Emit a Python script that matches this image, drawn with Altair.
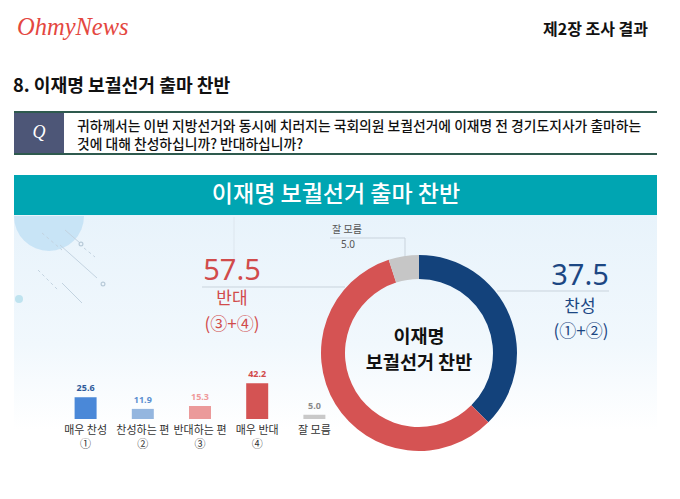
import math
import altair as alt
import pandas as pd

KR = "Noto Sans CJK KR"

# ---- data ----
bar_labels = ["매우 찬성|①", "찬성하는 편|②", "반대하는 편|③", "매우 반대|④", "잘 모름"]
bar_values = [25.6, 11.9, 15.3, 42.2, 5.0]
donut_cats = ["찬성", "반대", "잘 모름"]
donut_values = [37.5, 57.5, 5.0]
donut_order = [1, 2, 3]

bar_colors = ["#4a88d8", "#94b6df", "#eb9a9a", "#d45353", "#c9c9c9"]
bar_text_colors = ["#2f5a9a", "#5b8fd0", "#ef9a9a", "#d24a4a", "#8a8a8a"]
donut_colors = ["#13427b", "#d55353", "#c6c6c6"]

bar_df = pd.DataFrame({"label": bar_labels, "value": bar_values})
donut_df = pd.DataFrame({"cat": donut_cats, "value": donut_values, "ord": donut_order})
one = pd.DataFrame({"a": [0]})

RED = "#d14b4b"
NAVY = "#1c4783"


def txt(s, x, y, size, color, weight="normal", align="center", font=KR, style="normal"):
    return alt.Chart(one).mark_text(
        text=s, fontSize=size, color=color, fontWeight=weight, align=align,
        baseline="middle", font=font, fontStyle=style
    ).encode(x=alt.value(x), y=alt.value(y))


def rule(x1, y1, x2, y2, color, w=1, dash=None):
    kw = dict(color=color, strokeWidth=w)
    if dash:
        kw["strokeDash"] = dash
    return alt.Chart(one).mark_rule(**kw).encode(
        x=alt.value(x1), x2=alt.value(x2), y=alt.value(y1), y2=alt.value(y2))


def rect(x1, y1, x2, y2, fill):
    return alt.Chart(one).mark_rect(fill=fill, opacity=1).encode(
        x=alt.value(x1), x2=alt.value(x2), y=alt.value(y1), y2=alt.value(y2))


def ring(x, y, r, color, filled=False):
    if filled:
        return alt.Chart(one).mark_arc(radius=r, theta=0, theta2=2 * math.pi, color=color) \
            .encode(x=alt.value(x), y=alt.value(y))
    return alt.Chart(one).mark_arc(radius=r, innerRadius=r - 1.2, theta=0, theta2=2 * math.pi,
                                   color=color).encode(x=alt.value(x), y=alt.value(y))


layers = []

# header
layers.append(txt("OhmyNews", 17, 28, 24.5, "#e4473f", font="Liberation Serif", style="italic", align="left"))
layers.append(txt("제2장 조사 결과", 648, 30, 16, "#111", weight="bold", align="right"))
layers.append(txt("8. 이재명 보궐선거 출마 찬반", 13, 87, 18.2, "#111", weight="bold", align="left"))

# question box
layers.append(rect(14, 113, 64, 153, "#4d5677"))
layers.append(rule(14, 112, 657, 112, "#2e5a4e", 2))
layers.append(rule(14, 154, 657, 154, "#2e5a4e", 2))
layers.append(txt("Q", 39, 133, 18, "white", font="Liberation Serif", style="italic"))
layers.append(txt("귀하께서는 이번 지방선거와 동시에 치러지는 국회의원 보궐선거에 이재명 전 경기도지사가 출마하는",
                  77, 127, 13.8, "#111", weight=500, align="left"))
layers.append(txt("것에 대해 찬성하십니까? 반대하십니까?", 77, 145, 13.8, "#111", weight=500, align="left"))

# banner
layers.append(rect(14, 175, 657, 215, "#00a5b2"))
layers.append(txt("이재명 보궐선거 출마 찬반", 336, 195, 23, "white", weight=500))

# gradient background
bg = alt.Chart(one).mark_rect(
    fill=alt.Gradient(gradient="linear", x1=0, y1=0, x2=0, y2=1,
                      stops=[alt.GradientStop(color="#e8f3fb", offset=0),
                             alt.GradientStop(color="#f1f8fd", offset=0.6),
                             alt.GradientStop(color="#ffffff", offset=1)])
).encode(x=alt.value(14), x2=alt.value(657), y=alt.value(215), y2=alt.value(430))
layers.append(bg)

# decorative shapes (top-left)
layers.append(alt.Chart(one).mark_arc(radius=35, theta=math.pi / 2, theta2=3 * math.pi / 2,
                                      color="#c6e3f5", opacity=0.95)
              .encode(x=alt.value(49), y=alt.value(216)))
layers.append(ring(19, 299, 4, "#bfe3ef", filled=True))
layers.append(rule(65, 230, 80, 243, "#c3d3e0", 1))
layers.append(rule(60, 245, 97, 278, "#c3d3e0", 1))
layers.append(rule(62, 283, 82, 303, "#c3d3e0", 1))
layers.append(rule(42, 233, 62, 250, "#c3d3e0", 1, [3, 3]))
layers.append(rule(84, 248, 95, 257, "#c3d3e0", 1, [3, 3]))
layers.append(rule(38, 270, 58, 290, "#c3d3e0", 1, [3, 3]))
layers.append(ring(81, 244, 2.5, "#b9cbd9"))
layers.append(ring(103, 284, 2.5, "#b9cbd9"))

# leader lines
layers.append(rule(234, 217, 234, 262, "#dde6ee", 1))
layers.append(rule(202, 287, 345, 287, "#c9d3dc", 1))
layers.append(rule(497, 291, 609, 291, "#c9d3dc", 1))
layers.append(rule(330, 238, 405, 238, "#c9d3dc", 1))
layers.append(rule(405, 238, 405, 257, "#c9d3dc", 1))

# bars
xscale = alt.Scale(domain=bar_labels, range=[57, 343], paddingInner=0, paddingOuter=0)
yscale = alt.Scale(domain=[0, 100], range=[419, 334])

bars = alt.Chart(bar_df).mark_bar(size=22).encode(
    x=alt.X("label:N", scale=xscale, sort=None,
            axis=alt.Axis(orient="bottom", offset=-80, domainColor="#bbbbbb", tickColor="#bbbbbb",
                          tickSize=3, tickBand="extent", labels=False, title=None, grid=False)),
    y=alt.Y("value:Q", scale=yscale, axis=None),
    color=alt.Color("label:N", scale=alt.Scale(domain=bar_labels, range=bar_colors), legend=None),
)
layers.append(bars)

bar_text = alt.Chart(bar_df).mark_text(dy=-4, baseline="bottom", fontWeight="bold", fontSize=9,
                                       font="Noto Sans").encode(
    x=alt.X("label:N", scale=xscale, sort=None),
    y=alt.Y("value:Q", scale=yscale),
    text=alt.Text("value:Q", format=".1f"),
    color=alt.Color("label:N", scale=alt.Scale(domain=bar_labels, range=bar_text_colors), legend=None),
)
layers.append(bar_text)

cat_text = alt.Chart(bar_df).mark_text(lineBreak="|", baseline="middle", fontSize=11, lineHeight=14,
                                       font=KR, color="#333333").encode(
    x=alt.X("label:N", scale=xscale, sort=None),
    y=alt.value(431),
    text="label:N",
)
layers.append(cat_text)

# donut
donut = alt.Chart(donut_df).mark_arc(innerRadius=74, outerRadius=98).encode(
    theta=alt.Theta("value:Q"),
    color=alt.Color("cat:N", scale=alt.Scale(domain=donut_cats, range=donut_colors), legend=None),
    order=alt.Order("ord:Q"),
    x=alt.value(419), y=alt.value(353),
)
layers.append(donut)

layers.append(txt("이재명", 419, 337, 18.5, "#111", weight="bold"))
layers.append(txt("보궐선거 찬반", 419, 363, 18.5, "#111", weight="bold"))


def num(cat, x, y, size, color):
    return alt.Chart(donut_df).transform_filter(alt.datum.cat == cat).mark_text(
        fontSize=size, color=color, font="Noto Sans", baseline="middle", align="center"
    ).encode(text=alt.Text("value:Q", format=".1f"), x=alt.value(x), y=alt.value(y))


layers.append(num("반대", 232, 271, 29, RED))
layers.append(txt("반대", 232, 299, 17, RED))
layers.append(txt("(③+④)", 232, 325, 17, RED))

layers.append(num("찬성", 580, 276, 29, NAVY))
layers.append(txt("찬성", 580, 307, 17, NAVY))
layers.append(txt("(①+②)", 581, 332, 17, NAVY))

layers.append(txt("잘 모름", 347, 230, 10, "#555555"))
layers.append(num("잘 모름", 348, 245, 10, "#555555"))

chart = alt.layer(*layers).resolve_scale(color="independent").properties(
    width=680, height=499, padding=0, autosize=alt.AutoSizeParams(type="none")
).configure_view(strokeWidth=0)

chart.save("out.html", embed_options={"renderer": "svg", "actions": False})
